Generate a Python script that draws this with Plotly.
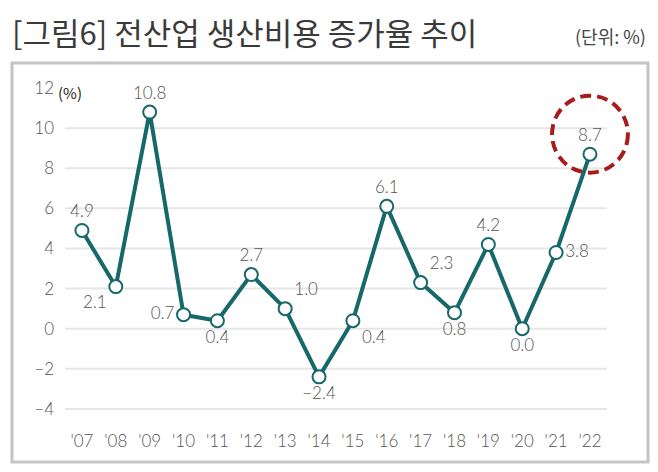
import plotly.graph_objects as go

years = ["'07", "'08", "'09", "'10", "'11", "'12", "'13", "'14",
         "'15", "'16", "'17", "'18", "'19", "'20", "'21", "'22"]
growth = [4.9, 2.1, 10.8, 0.7, 0.4, 2.7, 1.0, -2.4,
          0.4, 6.1, 2.3, 0.8, 4.2, 0.0, 3.8, 8.7]
y_ticks = [-4, -2, 0, 2, 4, 6, 8, 10, 12]
grid_vals = [-4, -2, 0, 2, 4, 6, 8, 10]

label_pos = ["top center", "bottom left", "top center", "middle left",
             "bottom center", "top center", "top right", "bottom center",
             "bottom right", "top center", "top right", "bottom center",
             "top center", "bottom center", "middle right", "top center"]

W, H = 658, 472
L, R, T, B = 65, 24, 78, 43
pw, ph = W - L - R, H - T - B


def px(x):
    return (x - L) / pw


def py(y):
    return (H - B - y) / ph


teal = "#17686a"
txt = "#555555"
font_fam = "Lato, Noto Sans CJK KR, sans-serif"
xs = list(range(len(years)))

fig = go.Figure()
fig.add_trace(go.Scatter(
    x=xs, y=growth, mode="lines+markers+text",
    line=dict(color=teal, width=4),
    marker=dict(size=13, color="white", line=dict(color=teal, width=2)),
    text=[f"{v:.1f}".replace("-", "\u2212") for v in growth],
    textposition=label_pos,
    textfont=dict(size=17, color=txt, family=font_fam, weight=300),
    cliponaxis=False, showlegend=False,
))

shapes = []
for g in grid_vals:
    shapes.append(dict(type="line", xref="x", yref="y", x0=-0.5, x1=15.5, y0=g, y1=g,
                       line=dict(color="#e6e6e6", width=2), layer="below"))
# outer frame
shapes.append(dict(type="rect", xref="paper", yref="paper",
                   x0=px(12), x1=px(648), y0=py(462), y1=py(63),
                   line=dict(color="#c4c4c4", width=3)))
# highlight circle on last point
shapes.append(dict(type="circle", xref="x", yref="y",
                   x0=13.88, x1=16.12, y0=7.78, y1=11.62,
                   line=dict(color="#a51d1d", width=4, dash="11px,6px")))

fig.update_layout(
    width=W, height=H,
    margin=dict(l=L, r=R, t=T, b=B),
    paper_bgcolor="white", plot_bgcolor="white",
    shapes=shapes,
    xaxis=dict(range=[-0.5, 16.3], tickvals=xs, ticktext=years,
               showgrid=False, zeroline=False, showline=False, ticks="",
               tickfont=dict(size=17, color=txt, family=font_fam, weight=300)),
    yaxis=dict(range=[-5, 12.5], tickvals=y_ticks,
               ticktext=[str(t).replace("-", "\u2212") for t in y_ticks],
               showgrid=False, zeroline=False, showline=False, ticks="",
               ticklabelstandoff=10,
               tickfont=dict(size=17, color=txt, family=font_fam, weight=300)),
    annotations=[
        dict(text="[그림6] 전산업 생산비용 증가율 추이", xref="paper", yref="paper",
             x=px(10), y=py(31), xanchor="left", yanchor="middle", showarrow=False,
             font=dict(size=31, color="#3a3a3a", family="Noto Sans CJK KR")),
        dict(text="(단위: %)", xref="paper", yref="paper",
             x=px(648), y=py(36), xanchor="right", yanchor="middle", showarrow=False,
             font=dict(size=18, color="#444444", family="Noto Sans CJK KR")),
        dict(text="(%)", xref="paper", yref="y",
             x=px(56), y=12, yshift=-4, xanchor="left", yanchor="middle", showarrow=False,
             font=dict(size=15, color="#222222", family="Noto Sans CJK KR")),
    ],
)

fig.write_html("out.html", config={"displayModeBar": False},
               post_script="document.body.style.margin='0';")
